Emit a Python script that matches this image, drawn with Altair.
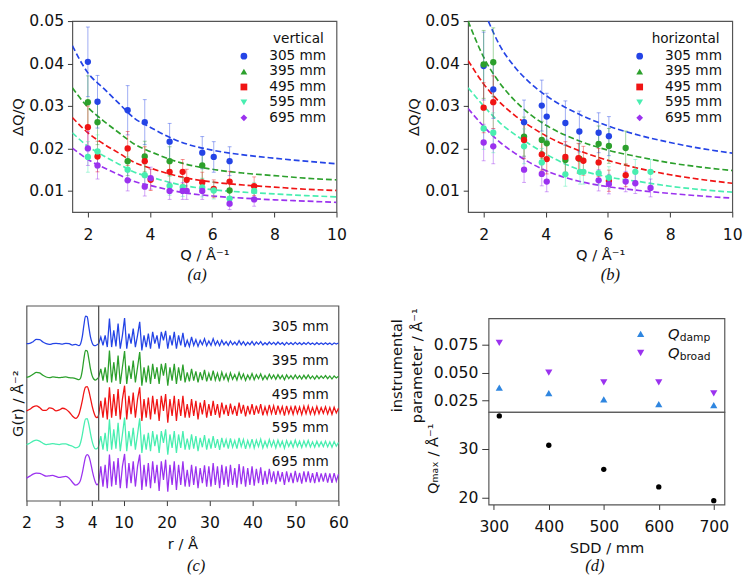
import altair as alt
import pandas as pd

FONT = "DejaVu Sans"
SERIF = "Liberation Serif"
INK = "#111111"

sdd_labels = ["305 mm", "395 mm", "495 mm", "595 mm", "695 mm"]
sdd_colors = ["#2444e6", "#2ca02c", "#f01414", "#48eeb0", "#9b32ef"]
legend_shapes = ["circle", "triangle-up", "square", "triangle-down", "diamond"]

# ---------------- (a) vertical ----------------
qa_305 = [2.0, 2.31, 3.28, 3.83, 4.63, 5.68, 6.05, 6.56]
va_305 = [0.0404, 0.0310, 0.0290, 0.0262, 0.0216, 0.0190, 0.0180, 0.0170]
ea_305 = [0.0082, 0.0062, 0.0058, 0.0053, 0.0043, 0.0038, 0.0036, 0.0034]
qa_395 = [2.0, 2.31, 3.28, 3.83, 4.63, 5.68, 6.56]
va_395 = [0.0309, 0.0262, 0.0170, 0.0181, 0.0170, 0.0160, 0.0101]
ea_395 = [0.0062, 0.0053, 0.0034, 0.0036, 0.0034, 0.0032, 0.0020]
qa_495 = [2.0, 2.31, 3.28, 3.83, 4.02, 4.63, 5.05, 5.18, 5.68, 6.05, 6.56, 7.35]
va_495 = [0.0250, 0.0181, 0.0200, 0.0170, 0.0126, 0.0145, 0.0145, 0.0126, 0.0120, 0.0105, 0.0122, 0.0111]
ea_495 = [0.0050, 0.0036, 0.0040, 0.0034, 0.0025, 0.0029, 0.0029, 0.0025, 0.0024, 0.0021, 0.0024, 0.0022]
qa_595 = [2.0, 2.31, 3.28, 3.83, 4.63, 5.05, 5.68, 6.05, 6.56, 7.35]
va_595 = [0.0180, 0.0193, 0.0150, 0.0137, 0.0112, 0.0109, 0.0108, 0.0101, 0.0082, 0.0100]
ea_595 = [0.0036, 0.0039, 0.0030, 0.0027, 0.0022, 0.0022, 0.0022, 0.0020, 0.0016, 0.0020]
qa_695 = [2.0, 2.31, 3.28, 3.83, 4.02, 4.63, 5.05, 5.18, 5.68, 6.56, 7.35]
va_695 = [0.0200, 0.0160, 0.0125, 0.0110, 0.0130, 0.0100, 0.0100, 0.0100, 0.0100, 0.0070, 0.0080]
ea_695 = [0.0040, 0.0032, 0.0025, 0.0022, 0.0026, 0.0020, 0.0020, 0.0020, 0.0020, 0.0014, 0.0016]

fit_q = [1.5, 2.0, 2.5, 3.0, 3.5, 4.0, 5.0, 6.0, 7.0, 8.0, 9.0, 10.0]
fa_305 = [0.0442, 0.0378, 0.0342, 0.0306, 0.0271, 0.0250, 0.0215, 0.0196, 0.0185, 0.0177, 0.0170, 0.0164]
fa_395 = [0.0343, 0.0297, 0.0265, 0.0237, 0.0210, 0.0193, 0.0166, 0.0151, 0.0142, 0.0136, 0.0130, 0.0126]
fa_495 = [0.0273, 0.0237, 0.0211, 0.0189, 0.0167, 0.0154, 0.0133, 0.0121, 0.0114, 0.0109, 0.0104, 0.0101]
fa_595 = [0.0237, 0.0205, 0.0183, 0.0163, 0.0144, 0.0133, 0.0114, 0.0103, 0.0097, 0.0093, 0.0089, 0.0086]
fa_695 = [0.0201, 0.0174, 0.0155, 0.0138, 0.0122, 0.0113, 0.0097, 0.0088, 0.0083, 0.0079, 0.0076, 0.0073]

# ---------------- (b) horizontal ----------------
qb_305 = [2.0, 2.31, 3.30, 3.87, 4.03, 4.63, 5.08, 5.70, 6.03]
vb_305 = [0.0394, 0.0339, 0.0262, 0.0301, 0.0275, 0.0260, 0.0240, 0.0237, 0.0229]
eb_305 = [0.0080, 0.0068, 0.0052, 0.0060, 0.0055, 0.0052, 0.0048, 0.0047, 0.0046]
qb_395 = [2.0, 2.31, 3.30, 3.87, 4.03, 4.63, 5.08, 5.70, 6.03, 6.57]
vb_395 = [0.0398, 0.0403, 0.0228, 0.0220, 0.0212, 0.0173, 0.0176, 0.0211, 0.0206, 0.0201]
eb_395 = [0.0080, 0.0081, 0.0046, 0.0044, 0.0042, 0.0035, 0.0035, 0.0042, 0.0041, 0.0040]
qb_495 = [2.0, 2.31, 3.30, 3.87, 4.03, 4.63, 5.05, 5.21, 5.70, 6.03, 6.57]
vb_495 = [0.0296, 0.0309, 0.0220, 0.0186, 0.0175, 0.0180, 0.0177, 0.0171, 0.0167, 0.0124, 0.0137]
eb_495 = [0.0059, 0.0062, 0.0044, 0.0037, 0.0035, 0.0036, 0.0035, 0.0034, 0.0033, 0.0025, 0.0027]
qb_595 = [2.0, 2.31, 3.30, 3.87, 4.63, 5.10, 5.21, 5.70, 6.03, 6.88, 7.37]
vb_595 = [0.0247, 0.0237, 0.0205, 0.0167, 0.0139, 0.0145, 0.0145, 0.0142, 0.0131, 0.0145, 0.0145]
eb_595 = [0.0049, 0.0047, 0.0041, 0.0033, 0.0028, 0.0029, 0.0029, 0.0028, 0.0026, 0.0029, 0.0029]
qb_695 = [2.0, 2.31, 3.30, 3.87, 4.03, 5.70, 6.03, 6.57, 6.88, 7.37]
vb_695 = [0.0214, 0.0205, 0.0150, 0.0140, 0.0122, 0.0125, 0.0116, 0.0122, 0.0118, 0.0107]
eb_695 = [0.0043, 0.0041, 0.0030, 0.0028, 0.0024, 0.0025, 0.0023, 0.0024, 0.0024, 0.0021]

fit_q_b305 = [2.15, 2.5, 3.0, 3.5, 4.0, 5.0, 6.0, 7.0, 8.0, 9.0, 10.0]
fb_305 = [0.0500, 0.0445, 0.0392, 0.0354, 0.0325, 0.0283, 0.0253, 0.0231, 0.0214, 0.0200, 0.0189]
fb_395 = [0.0500, 0.0415, 0.0356, 0.0313, 0.0280, 0.0255, 0.0220, 0.0196, 0.0180, 0.0166, 0.0156, 0.0148]
fb_495 = [0.0407, 0.0352, 0.0310, 0.0278, 0.0252, 0.0230, 0.0197, 0.0172, 0.0153, 0.0138, 0.0127, 0.0118]
fb_595 = [0.0343, 0.0300, 0.0262, 0.0233, 0.0209, 0.0187, 0.0152, 0.0133, 0.0122, 0.0111, 0.0103, 0.0097]
fb_695 = [0.0294, 0.0252, 0.0216, 0.0189, 0.0166, 0.0148, 0.0124, 0.0110, 0.0101, 0.0094, 0.0088, 0.0083]

# ---------------- (c) G(r) ----------------
r_split = 4.2
r_max = 60.0
r_left = [2.0, 2.1, 2.2, 2.3, 2.4, 2.5, 2.6, 2.7, 2.8, 2.9, 3.0, 3.1, 3.2, 3.3, 3.4, 3.5, 3.6,
          3.65, 3.7, 3.75, 3.8, 3.85, 3.9, 3.95, 4.0, 4.05, 4.1, 4.15, 4.2]
gl_305 = [0.0, 0.1, 0.6, 1.3, 1.2, 0.5, 0.0, -0.2, 0.0, 0.1, 0.0, -0.1, 0.1, 0.0, -0.4, -0.2, -0.6,
          0.0, 2.0, 5.5, 8.2, 8.0, 5.0, 2.0, 0.3, -0.5, -0.6, -0.3, 0.0]
gl_395 = [0.0, 0.3, 0.9, 1.5, 1.3, 0.6, 0.1, -0.1, 0.1, 0.0, -0.1, 0.0, 0.1, -0.1, -0.2, -0.4, -0.7,
          -0.2, 2.0, 5.5, 8.0, 7.8, 5.5, 2.5, 0.5, -0.5, -0.8, -0.5, 0.0]
gl_495 = [0.0, 0.5, 1.2, 1.5, 1.0, 0.2, 0.2, 0.9, 0.7, 0.0, 0.3, 0.8, 0.5, -0.3, -1.5, -2.2, -1.0,
          0.8, 3.0, 5.5, 7.1, 7.2, 6.0, 3.8, 1.5, -0.3, -1.6, -2.0, -1.2]
gl_595 = [0.0, 0.4, 1.0, 1.3, 1.0, 0.4, 0.0, 0.1, 0.3, 0.1, 0.0, 0.2, 0.2, -0.2, -0.5, -1.0, -0.6,
          0.6, 2.8, 5.6, 7.6, 7.7, 6.0, 3.3, 1.0, -0.6, -1.3, -1.2, -0.5]
gl_695 = [0.0, 0.6, 1.2, 1.5, 1.4, 1.0, 0.6, 0.7, 0.8, 0.5, 0.2, 0.4, 0.5, 0.0, -1.2, -2.1, -1.5,
          -0.5, 1.5, 4.0, 6.3, 7.0, 6.5, 4.8, 2.5, 0.4, -1.2, -2.0, -1.5]

gr_305 = [0.0, 2.0, -0.5, 2.5, -1.0, 7.5, -1.0, 4.0, -0.8, 6.0,
          -1.5, 2.5, 7.6, -1.5, 3.0, 0.0, 4.5, -1.0, 2.5, 6.5,
          -2.0, 2.5, -1.0, 3.0, -1.5, 3.5, 0.0, 2.5, -1.5, 3.5,
          1.0, 3.8, -1.5, 2.5, -0.5, 3.5, -1.5, 2.5, -0.5, 3.2,
          -1.0, 1.0, -0.8, 2.0, -0.5, 1.2, -0.8, 1.0, -0.3, 1.5,
          -0.6, 0.8, -0.5, 1.5, -0.4, 0.8, -0.6, 1.0, -0.3, 0.6,
          -0.5, 0.8, -0.3, 0.5, -0.4, 0.9, -0.3, 0.6, -0.5, 0.4,
          -0.3, 0.7, -0.4, 0.5, -0.2, 0.6, -0.4, 0.3, -0.3, 0.5,
          -0.2, 0.4, -0.3, 0.5, -0.2, 0.3, -0.4, 0.4, -0.2, 0.3,
          -0.3, 0.4, -0.2, 0.3, -0.3, 0.3, -0.2, 0.4, -0.2, 0.2,
          -0.3, 0.3, -0.2, 0.2, -0.2, 0.3, -0.2, 0.2, -0.3, 0.2,
          -0.1, 0.2]
gr_395 = [0.0, 2.5, -1.0, 3.0, -1.5, 8.0, -1.5, 4.5, -1.0, 6.5,
          -2.0, 3.0, 7.8, -2.0, 3.5, -0.5, 5.0, -1.5, 3.0, 7.5,
          -2.5, 3.0, -1.5, 3.5, -2.0, 4.0, -0.5, 3.0, -2.0, 4.0,
          0.5, 4.2, -2.5, 3.0, -1.0, 4.0, -2.0, 3.0, -1.0, 3.8,
          -1.5, 1.5, -1.2, 2.5, -1.0, 1.8, -1.5, 1.5, -0.8, 2.2,
          -1.2, 1.2, -1.0, 2.0, -0.8, 1.2, -1.2, 1.5, -0.6, 1.0,
          -1.0, 1.3, -0.6, 0.8, -0.8, 1.4, -0.5, 1.0, -0.9, 0.7,
          -0.6, 1.1, -0.7, 0.8, -0.4, 1.0, -0.7, 0.5, -0.6, 0.9,
          -0.4, 0.7, -0.6, 0.8, -0.4, 0.6, -0.7, 0.7, -0.4, 0.5,
          -0.5, 0.7, -0.4, 0.5, -0.5, 0.6, -0.4, 0.7, -0.4, 0.4,
          -0.5, 0.5, -0.4, 0.4, -0.3, 0.5, -0.4, 0.4, -0.5, 0.4,
          -0.2, 0.3]
gr_495 = [-1.2, 3.0, -2.0, 4.0, -2.5, 7.0, -2.0, 5.0, -1.5, 6.5,
          -2.5, 3.5, 7.5, -2.5, 4.5, -1.0, 5.5, -2.0, 3.5, 7.0,
          -3.0, 3.5, -2.0, 4.0, -2.5, 4.5, -1.0, 3.5, -3.0, 4.5,
          0.0, 5.0, -3.5, 3.5, -1.5, 4.5, -3.0, 3.5, -1.5, 4.5,
          -2.0, 2.0, -2.0, 3.5, -1.5, 3.0, -2.5, 2.5, -1.0, 3.2,
          -2.0, 2.0, -1.5, 3.0, -1.2, 2.0, -2.0, 2.5, -1.0, 1.8,
          -1.5, 2.2, -1.0, 1.5, -1.5, 2.5, -0.8, 1.8, -1.6, 1.5,
          -1.0, 2.0, -1.2, 1.6, -0.8, 2.0, -1.3, 1.2, -1.0, 1.8,
          -0.8, 1.5, -1.2, 1.6, -0.7, 1.3, -1.4, 1.5, -0.8, 1.2,
          -1.0, 1.6, -0.8, 1.2, -1.1, 1.4, -0.8, 1.5, -0.9, 1.0,
          -1.0, 1.3, -0.8, 1.0, -0.7, 1.2, -0.9, 1.0, -1.0, 1.1,
          -0.6, 0.8]
gr_595 = [-0.5, 2.5, -1.5, 3.5, -2.0, 7.5, -1.5, 4.5, -1.2, 6.5,
          -2.0, 3.0, 8.0, -2.0, 4.0, -0.5, 5.0, -1.5, 3.0, 7.8,
          -2.5, 3.0, -1.5, 3.5, -2.0, 4.0, -0.5, 3.0, -2.5, 4.0,
          0.5, 4.5, -3.0, 3.0, -1.0, 4.0, -2.5, 3.0, -1.0, 4.0,
          -1.5, 1.8, -1.5, 3.0, -1.2, 2.5, -2.0, 2.0, -0.8, 2.8,
          -1.5, 1.8, -1.2, 2.5, -1.0, 1.6, -1.6, 2.0, -0.8, 1.5,
          -1.2, 1.8, -0.8, 1.2, -1.2, 2.0, -0.6, 1.5, -1.3, 1.2,
          -0.8, 1.6, -1.0, 1.3, -0.6, 1.6, -1.0, 1.0, -0.8, 1.5,
          -0.6, 1.2, -1.0, 1.3, -0.6, 1.0, -1.1, 1.2, -0.6, 1.0,
          -0.8, 1.3, -0.6, 1.0, -0.9, 1.1, -0.6, 1.2, -0.7, 0.8,
          -0.8, 1.0, -0.6, 0.8, -0.6, 1.0, -0.7, 0.8, -0.8, 0.9,
          -0.5, 0.6]
gr_695 = [-1.5, 3.5, -2.5, 4.0, -3.0, 7.0, -2.5, 5.0, -2.0, 6.0,
          -3.0, 3.5, 7.2, -3.0, 4.5, -1.5, 5.0, -2.5, 3.5, 7.0,
          -3.5, 4.0, -2.5, 4.5, -3.0, 5.0, -1.5, 4.0, -3.8, 5.0,
          -0.5, 5.5, -4.0, 4.0, -2.0, 5.0, -3.5, 4.0, -2.0, 5.0,
          -2.5, 2.5, -2.5, 4.0, -2.0, 3.5, -3.0, 3.0, -1.5, 3.8,
          -2.5, 3.5, -2.5, 4.5, -2.0, 3.5, -3.0, 4.0, -2.0, 3.5,
          -2.5, 4.0, -2.0, 3.0, -2.8, 4.2, -1.8, 3.5, -2.5, 3.0,
          -2.0, 3.5, -2.2, 2.8, -1.5, 3.2, -2.0, 2.2, -1.8, 2.8,
          -1.2, 2.0, -1.8, 2.2, -1.0, 1.8, -2.0, 2.0, -1.2, 1.6,
          -1.5, 2.2, -1.2, 1.6, -1.6, 2.0, -1.2, 2.0, -1.3, 1.5,
          -1.5, 1.8, -1.2, 1.4, -1.0, 1.6, -1.3, 1.4, -1.4, 1.5,
          -0.9, 1.2]

# ---------------- (d) instrumental parameters ----------------
sdd_d = [310, 400, 500, 600, 700]
q_damp = [0.0367, 0.0317, 0.0261, 0.0218, 0.0209]
q_broad = [0.0767, 0.0500, 0.0413, 0.0413, 0.0314]
q_max = [36.7, 30.7, 25.8, 22.2, 19.4]
damp_color = "#2f86e0"
broad_color = "#9b32ef"

color_scale = alt.Scale(domain=sdd_labels, range=sdd_colors)
one = pd.DataFrame({"k": [0]})


def points_frame(qs, vs, es):
    rows = []
    for lab, q, v, e in zip(sdd_labels, qs, vs, es):
        for qi, vi, ei in zip(q, v, e):
            rows.append({"s": lab, "q": qi, "v": vi, "lo": vi - ei, "hi": vi + ei})
    return pd.DataFrame(rows)


def fits_frame(qgrids, vals):
    rows = []
    for lab, q, v in zip(sdd_labels, qgrids, vals):
        for qi, vi in zip(q, v):
            rows.append({"s": lab, "q": qi, "v": vi})
    return pd.DataFrame(rows)


def caption(txt, px, py):
    return alt.Chart(one).mark_text(font=SERIF, fontSize=17, fontStyle="italic", color=INK,
                                    align="center", baseline="middle").encode(
        x=alt.value(px), y=alt.value(py), text=alt.value(txt))


def spacer(w, h):
    return alt.Chart(one).mark_point(opacity=0, size=1).encode(
        x=alt.value(w / 2), y=alt.value(h / 2)
    ).properties(width=w, height=h, view=alt.ViewBackground(stroke="transparent"))


def dq_panel(pts, fits, legend_title, cap, cap_x):
    xs = alt.Scale(domain=[1.5, 10], nice=False, zero=False)
    ys = alt.Scale(domain=[0.005, 0.05], nice=False, zero=False)
    xax = alt.Axis(values=[2, 4, 6, 8, 10], format="d", title="Q / Å⁻¹")
    yax = alt.Axis(values=[0.01, 0.02, 0.03, 0.04, 0.05], format=".2f", title="ΔQ/Q")
    col = alt.Color("s:N", scale=color_scale, legend=None)
    X = lambda f: alt.X(f, type="quantitative", scale=xs, axis=xax)
    Y = lambda f: alt.Y(f, type="quantitative", scale=ys, axis=yax)
    lines = alt.Chart(fits).mark_line(strokeDash=[6, 3], strokeWidth=1.7, clip=True,
                                      interpolate="monotone").encode(
        x=X("q"), y=Y("v"), color=col, detail="s:N")
    bars = alt.Chart(pts).mark_rule(strokeWidth=1, opacity=0.45).encode(
        x=X("q"), y=Y("lo"), y2="hi:Q", color=col)
    cap_hi = alt.Chart(pts).mark_tick(thickness=1, size=4, opacity=0.45, orient="horizontal").encode(
        x=X("q"), y=Y("hi"), color=col)
    cap_lo = alt.Chart(pts).mark_tick(thickness=1, size=4, opacity=0.45, orient="horizontal").encode(
        x=X("q"), y=Y("lo"), color=col)
    dots = alt.Chart(pts).mark_circle(size=42, opacity=1).encode(x=X("q"), y=Y("v"), color=col)
    leg = [alt.Chart(one).mark_text(align="right", baseline="middle", fontSize=14, font=FONT,
                                    color=INK).encode(x=alt.value(258), y=alt.value(18),
                                                      text=alt.value(legend_title))]
    for i, (lab, colr, shp) in enumerate(zip(sdd_labels, sdd_colors, legend_shapes)):
        yy = 36 + 15.8 * i
        leg.append(alt.Chart(one).mark_point(shape=shp, filled=True, size=48, opacity=1,
                                             color=colr).encode(x=alt.value(176), y=alt.value(yy)))
        leg.append(alt.Chart(one).mark_text(align="left", baseline="middle", fontSize=14, font=FONT,
                                            color=INK).encode(x=alt.value(202), y=alt.value(yy),
                                                              text=alt.value(lab)))
    return alt.layer(lines, bars, cap_hi, cap_lo, dots, *leg, caption(cap, cap_x, 261)).properties(
        width=271, height=196)


pa = points_frame([qa_305, qa_395, qa_495, qa_595, qa_695],
                  [va_305, va_395, va_495, va_595, va_695],
                  [ea_305, ea_395, ea_495, ea_595, ea_695])
fa = fits_frame([fit_q] * 5, [fa_305, fa_395, fa_495, fa_595, fa_695])
pb = points_frame([qb_305, qb_395, qb_495, qb_595, qb_695],
                  [vb_305, vb_395, vb_495, vb_595, vb_695],
                  [eb_305, eb_395, eb_495, eb_595, eb_695])
fb = fits_frame([fit_q_b305] + [fit_q] * 4, [fb_305, fb_395, fb_495, fb_595, fb_695])

A = dq_panel(pa, fa, "vertical", "(a)", 128)
B = dq_panel(pb, fb, "horizontal", "(b)", 146)

# ---- panel (c)
g_left = [gl_305, gl_395, gl_495, gl_595, gl_695]
g_right = [gr_305, gr_395, gr_495, gr_595, gr_695]
lrows, rrows, lab_rows = [], [], []
for k, (lab, gl, grr) in enumerate(zip(sdd_labels, g_left, g_right)):
    off = -10.0 * k
    for r, g in zip(r_left, gl):
        lrows.append({"s": lab, "r": r, "g": g + off})
    n = len(grr)
    for i, g in enumerate(grr):
        rrows.append({"s": lab, "r": r_split + i * (r_max - r_split) / (n - 1), "g": g + off})
    lab_rows.append({"s": lab, "ly": off + 4.8})
dl, dr, dlab = pd.DataFrame(lrows), pd.DataFrame(rrows), pd.DataFrame(lab_rows)

xs_c = alt.Scale(domain=[2, r_split, r_max], range=[0, 74, 320], nice=False, zero=False)
ys_c = alt.Scale(domain=[-46.7, 11.3], nice=False, zero=False)
xax_c = alt.Axis(values=[2, 3, 4, 10, 20, 30, 40, 50, 60], format="d", title="r / Å")
yax_c = alt.Axis(labels=False, ticks=False, title="G(r) / Å⁻²", minExtent=0, titlePadding=1)
col = alt.Color("s:N", scale=color_scale, legend=None)
XC = lambda f: alt.X(f, type="quantitative", scale=xs_c, axis=xax_c)
YC = lambda f: alt.Y(f, type="quantitative", scale=ys_c, axis=yax_c)
c_left = alt.Chart(dl).mark_line(strokeWidth=1.3, interpolate="monotone").encode(
    x=XC("r"), y=YC("g"), color=col, detail="s:N")
c_right = alt.Chart(dr).mark_line(strokeWidth=1.3).encode(
    x=XC("r"), y=YC("g"), color=col, detail="s:N")
c_split = alt.Chart(one).mark_rule(color="#555555", strokeWidth=1.3).encode(
    x=alt.X(datum=r_split, type="quantitative", scale=xs_c, axis=xax_c))
c_text = alt.Chart(dlab).mark_text(align="right", baseline="middle", fontSize=14, font=FONT,
                                   color=INK).encode(x=alt.value(310), y=YC("ly"), text="s:N")
C = alt.layer(c_left, c_right, c_split, c_text, caption("(c)", 174, 267)).properties(width=320, height=200)

# ---- panel (d)
dd = pd.DataFrame({"sdd": sdd_d, "damp": q_damp, "broad": q_broad, "qmax": q_max})
xs_d = alt.Scale(domain=[290.5, 719.5], nice=False, zero=False)
ys_up = alt.Scale(domain=[0.0148, 0.0986], nice=False, zero=False)
yax_up = alt.Axis(values=[0.025, 0.05, 0.075], format=".3f", title=["instrumental", "parameter / Å⁻¹"],
                  tickSize=7, labelPadding=4, titlePadding=9, titleLineHeight=20)
YU = lambda f: alt.Y(f, type="quantitative", scale=ys_up, axis=yax_up)
XU = alt.X("sdd:Q", scale=xs_d, axis=None)
up_damp = alt.Chart(dd).mark_point(shape="triangle-up", filled=True, size=55, opacity=1,
                                   color=damp_color).encode(x=XU, y=YU("damp"))
up_broad = alt.Chart(dd).mark_point(shape="triangle-down", filled=True, size=55, opacity=1,
                                    color=broad_color).encode(x=XU, y=YU("broad"))
leg_d = []
for j, (shp, colr, sub) in enumerate([("triangle-up", damp_color, "damp"),
                                      ("triangle-down", broad_color, "broad")]):
    yy = 16 + 19.5 * j
    leg_d.append(alt.Chart(one).mark_point(shape=shp, filled=True, size=55, opacity=1,
                                           color=colr).encode(x=alt.value(156), y=alt.value(yy)))
    leg_d.append(alt.Chart(one).mark_text(align="left", baseline="middle", fontSize=15, font=FONT,
                                          fontStyle="italic", color=INK).encode(
        x=alt.value(184), y=alt.value(yy), text=alt.value("Q")))
    leg_d.append(alt.Chart(one).mark_text(align="left", baseline="middle", fontSize=11, font=FONT,
                                          color=INK).encode(
        x=alt.value(196), y=alt.value(yy + 4), text=alt.value(sub)))
D_up = alt.layer(up_damp, up_broad, *leg_d).properties(width=242, height=96)

ys_lo = alt.Scale(domain=[18.6, 37.5], nice=False, zero=False)
D_lo_pts = alt.Chart(dd).mark_circle(size=30, opacity=1, color="#000000").encode(
    x=alt.X("sdd:Q", scale=xs_d, axis=alt.Axis(values=[300, 400, 500, 600, 700], format="d",
                                               title="SDD / mm")),
    y=alt.Y("qmax:Q", scale=ys_lo, axis=alt.Axis(values=[20, 30], format="d", title="Qₘₐₓ / Å⁻¹",
                                                 tickSize=7, labelPadding=4, titlePadding=18)),
)
D_lo = alt.layer(D_lo_pts, caption("(d)", 109, 158)).properties(width=242, height=95)

D = alt.vconcat(spacer(242, 13), D_up, D_lo, spacing=0, bounds="flush")

AB = alt.hconcat(A, B, spacing=60)
CD = alt.hconcat(C, D, spacing=41)
row1 = alt.hconcat(spacer(1, 10), AB, spacing=0)
row2 = alt.hconcat(spacer(1, 10), CD, spacing=0)
chart = alt.vconcat(row1, row2, spacing=20).properties(
    padding={"left": -1, "top": -3, "right": 0, "bottom": 0}
).configure(font=FONT).configure_view(
    stroke="#555555", strokeWidth=1.2
).configure_axis(
    grid=False, domain=False, tickSize=5, tickColor="#333333", tickWidth=1,
    labelFont=FONT, labelFontSize=16, labelColor=INK, labelFlush=False, labelOverlap=False,
    titleFont=FONT, titleFontSize=15, titleFontWeight="normal", titleColor=INK,
    labelPadding=4, titlePadding=3
).configure_axisX(labelPadding=10, titlePadding=6)

chart.save("out.html", embed_options={"renderer": "svg", "actions": False})
